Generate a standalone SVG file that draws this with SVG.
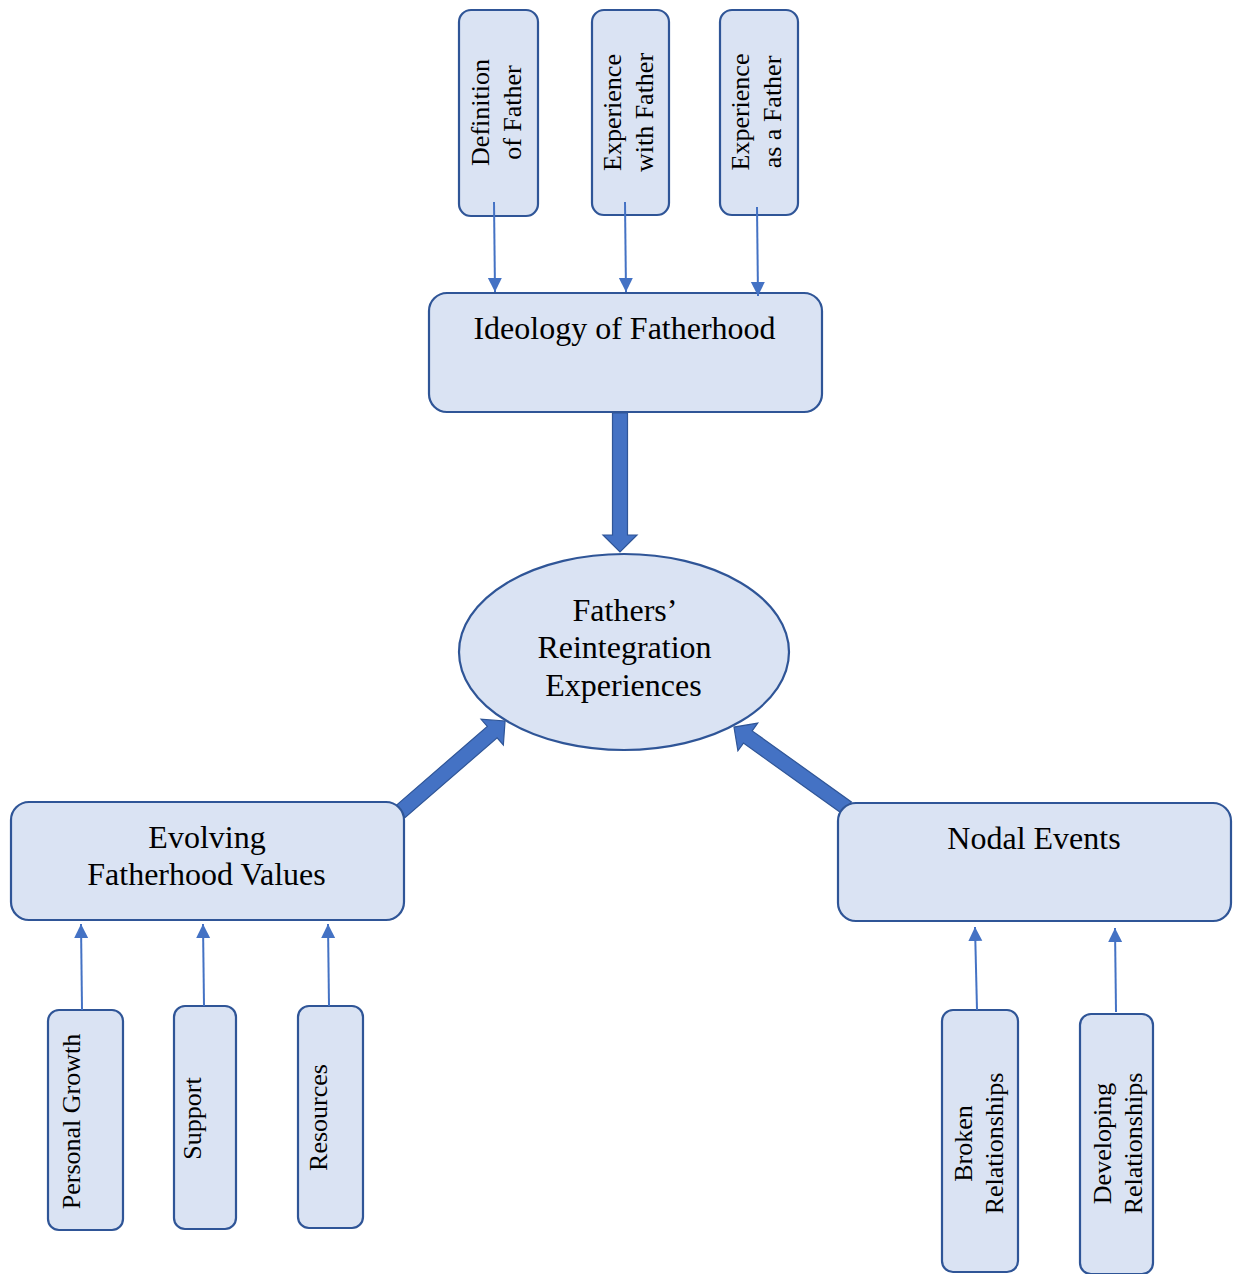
<svg xmlns="http://www.w3.org/2000/svg" width="1239" height="1274" viewBox="0 0 1239 1274">
<style>
.box{fill:#DAE3F3;stroke:#2F5597;stroke-width:2.2}
.t{font-family:"Liberation Serif","Times New Roman",serif;fill:#000}
.big{font-size:32px;text-anchor:middle}
.sm{font-size:26px;text-anchor:middle}
.thin{stroke:#4472C4;stroke-width:2;fill:none;marker-end:url(#ah)}
.blk{fill:#4472C4;stroke:#2F5597;stroke-width:1.2}
</style>
<defs>
<marker id="ah" markerUnits="userSpaceOnUse" markerWidth="14" markerHeight="16" refX="14" refY="7" orient="auto">
<path d="M0,0 L14,7 L0,14 Z" fill="#4472C4"/>
</marker>
<path id="block" d="M0,-7.5 L122,-7.5 L122,-17 L139,0 L122,17 L122,7.5 L0,7.5 Z"/>
</defs>
<rect width="1239" height="1274" fill="#fff"/>

<g id="connectors-block">
<use href="#block" class="blk" transform="translate(620,413) rotate(90)"/>
<use href="#block" class="blk" transform="translate(400,812) rotate(-40.9)"/>
<use href="#block" class="blk" transform="translate(847,808) rotate(-144.4)"/>
</g>

<g id="n-definition">
<rect class="box" x="459" y="10" width="79" height="206" rx="12"/>
<text class="t sm" transform="rotate(-90)"><tspan x="-112.5" y="489">Definition</tspan><tspan x="-112.5" y="521">of Father</tspan></text>
</g>
<g id="n-expwith">
<rect class="box" x="592" y="10" width="77" height="205" rx="12"/>
<text class="t sm" transform="rotate(-90)"><tspan x="-112.5" y="621">Experience</tspan><tspan x="-112.5" y="653">with Father</tspan></text>
</g>
<g id="n-expas">
<rect class="box" x="720" y="10" width="78" height="205" rx="12"/>
<text class="t sm" transform="rotate(-90)"><tspan x="-112" y="749">Experience</tspan><tspan x="-112" y="781">as a Father</tspan></text>
</g>
<g id="n-ideology">
<rect class="box" x="429" y="293" width="393" height="119" rx="18"/>
<text class="t big" x="624.5" y="339">Ideology of Fatherhood</text>
</g>
<g id="n-center">
<ellipse class="box" cx="624" cy="652" rx="165" ry="98"/>
<text class="t big"><tspan x="625" y="621">Fathers’</tspan><tspan x="624.5" y="658">Reintegration</tspan><tspan x="623.5" y="696">Experiences</tspan></text>
</g>
<g id="n-evolving">
<rect class="box" x="11" y="802" width="393" height="118" rx="18"/>
<text class="t big"><tspan x="207" y="848">Evolving</tspan><tspan x="206.5" y="885">Fatherhood  Values</tspan></text>
</g>
<g id="n-nodal">
<rect class="box" x="838" y="803" width="393" height="118" rx="18"/>
<text class="t big" x="1034" y="849">Nodal Events</text>
</g>
<g id="n-personal">
<rect class="box" x="48" y="1010" width="75" height="220" rx="11"/>
<text class="t sm" transform="rotate(-90)" x="-1121.5" y="80">Personal Growth</text>
</g>
<g id="n-support">
<rect class="box" x="174" y="1006" width="62" height="223" rx="11"/>
<text class="t sm" transform="rotate(-90)" x="-1118.5" y="201">Support</text>
</g>
<g id="n-resources">
<rect class="box" x="298" y="1006" width="65" height="222" rx="11"/>
<text class="t sm" transform="rotate(-90)" x="-1117.5" y="327">Resources</text>
</g>
<g id="n-broken">
<rect class="box" x="942" y="1010" width="76" height="262" rx="11"/>
<text class="t sm" transform="rotate(-90)"><tspan x="-1143.5" y="972">Broken</tspan><tspan x="-1143.5" y="1003">Relationships</tspan></text>
</g>
<g id="n-developing">
<rect class="box" x="1080" y="1014" width="73" height="260" rx="11"/>
<text class="t sm" transform="rotate(-90)"><tspan x="-1143.5" y="1111">Developing</tspan><tspan x="-1143.5" y="1142">Relationships</tspan></text>
</g>

<g id="connectors">
<line class="thin" x1="494" y1="202" x2="495" y2="292"/>
<line class="thin" x1="625" y1="202" x2="626" y2="292"/>
<line class="thin" x1="757" y1="207" x2="758" y2="296"/>
<line class="thin" x1="82" y1="1010" x2="81" y2="924"/>
<line class="thin" x1="204" y1="1006" x2="203" y2="924"/>
<line class="thin" x1="329" y1="1006" x2="328" y2="924"/>
<line class="thin" x1="977" y1="1010" x2="975" y2="927"/>
<line class="thin" x1="1116" y1="1012" x2="1115" y2="928"/>
</g>
</svg>
